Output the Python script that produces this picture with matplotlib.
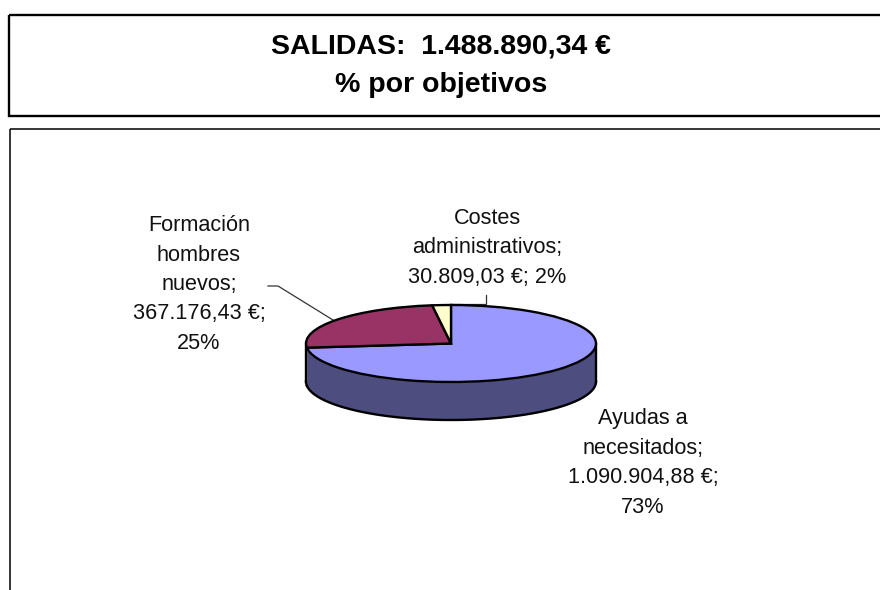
import numpy as np
import matplotlib
matplotlib.use("Agg")
import matplotlib.pyplot as plt
from matplotlib.patches import Rectangle

plt.rcParams['font.family'] = ['Liberation Sans', 'DejaVu Sans']

# data
categories = ["Ayudas a\nnecesitados;", "Formación\nhombres\nnuevos;", "Costes\nadministrativos;"]
amounts = [1090904.88, 367176.43, 30809.03]
percents = [73, 25, 2]
colors = ["#9999FF", "#993366", "#FFFFCC"]
wall_colors = ["#4D4D80", "#4D1A33", "#808066"]
total = 1488890.34

def euros(v):
    return f"{v:,.2f}".replace(",", "X").replace(".", ",").replace("X", ".") + " €"

fig = plt.figure(figsize=(8.8, 5.9), dpi=100)
bg = fig.add_axes([0, 0, 1, 1])
bg.set_xlim(0, 880)
bg.set_ylim(590, 0)
bg.axis('off')

# title box and chart box, both run off the right edge
bg.add_patch(Rectangle((9, 15), 900, 101, fill=False, ec="black", lw=1.7))
bg.add_patch(Rectangle((10, 129), 900, 500, fill=False, ec="black", lw=1.1))
bg.text(441, 66, f"SALIDAS:  {euros(total)}\n% por objetivos", ha='center', va='center',
        fontsize=20.5, fontweight='bold', linespacing=1.62)

# squashed pie, x -1..1 over 306..596 px, y 1..-1 over 305..382 px, wall below
x0, x1, y_top, y_mid_low, y_wall = 306, 596, 305, 382, 420
ax = fig.add_axes([x0 / 880, 1 - y_wall / 590, (x1 - x0) / 880, (y_wall - y_top) / 590])
wedges, _ = ax.pie(amounts, colors=colors, startangle=90, counterclock=False,
                   wedgeprops=dict(edgecolor="black", linewidth=1.7))
ax.set_aspect('auto')
depth = 2 * (y_wall - y_mid_low) / (y_mid_low - y_top)
ax.set_xlim(-1, 1)
ax.set_ylim(-1 - depth, 1)
for w in wedges:
    w.set_clip_on(False)
    w.set_zorder(3)

# side wall of the slices on the front half
for w, c in zip(wedges, wall_colors):
    a1 = w.theta1 % 360
    a2 = a1 + (w.theta2 - w.theta1)
    lo, hi = max(a1, 180), min(a2, 360)
    if hi <= lo:
        continue
    t = np.radians(np.linspace(lo, hi, 120))
    ax.fill_between(np.cos(t), np.sin(t) - depth, np.sin(t), color=c, lw=0, zorder=1, clip_on=False)
    ax.plot(np.cos(t), np.sin(t) - depth, color="black", lw=1.7, zorder=2, clip_on=False)
ax.plot([-1, -1], [0, -depth], color="black", lw=1.7, zorder=2, clip_on=False)
ax.plot([1, 1], [0, -depth], color="black", lw=1.7, zorder=2, clip_on=False)

# data labels
label_pos = [(643, 463), (199, 284.5), (487, 248)]
pct_breaks = [";\n", ";\n", "; "]
for name, amt, pct, pos, brk in zip(categories, amounts, percents, label_pos, pct_breaks):
    txt = f"{name}\n{euros(amt)}{brk}{pct}%"
    bg.text(pos[0], pos[1], txt, ha='center', va='center', fontsize=15.6,
            linespacing=1.53, color="#111111")

# leader lines
bg.plot([268, 278, 333], [286, 286, 320], color="#333333", lw=0.9)
bg.plot([486, 486, 450], [295, 304, 304], color="#333333", lw=0.9)

fig.savefig("out.png", dpi=100)
